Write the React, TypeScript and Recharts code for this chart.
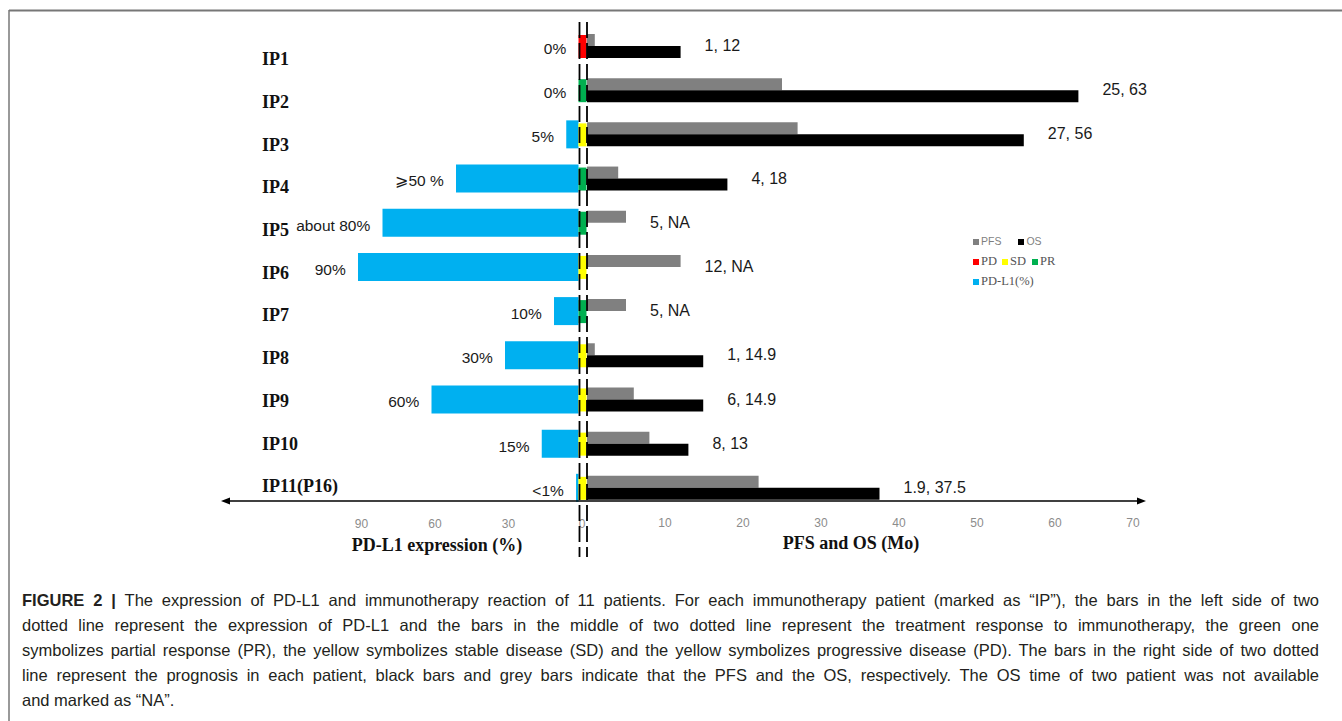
import { Bar, BarChart, Cell, LabelList, Legend, XAxis, YAxis } from "recharts";

const patients = ["IP1", "IP2", "IP3", "IP4", "IP5", "IP6", "IP7", "IP8", "IP9", "IP10", "IP11(P16)"];
const pdl1Percent = [0, 0, 5, 50, 80, 90, 10, 30, 60, 15, 1];
const pdl1Labels = ["0%", "0%", "5%", "⩾50 %", "about 80%", "90%", "10%", "30%", "60%", "15%", "<1%"];
const responses = ["PD", "PR", "SD", "PR", "PR", "SD", "PR", "SD", "SD", "SD", "SD"];
const pfsMonths = [1, 25, 27, 4, 5, 12, 5, 1, 6, 8, 22];
const osMonths: (number | null)[] = [12, 63, 56, 18, null, null, null, 14.9, 14.9, 13, 37.5];
const survivalLabels = ["1, 12", "25, 63", "27, 56", "4, 18", "5, NA", "12, NA", "5, NA", "1, 14.9", "6, 14.9", "8, 13", "1.9, 37.5"];
const pdl1Ticks = [90, 60, 30, 0];
const monthTicks = [10, 20, 30, 40, 50, 60, 70];

const responseColors: Record<string, string> = { PD: "#FF0000", SD: "#FFFF00", PR: "#00B050" };

const captionLines = [
  "The expression of PD-L1 and immunotherapy reaction of 11 patients. For each immunotherapy patient (marked as “IP”), the bars in the left side of two",
  "dotted line represent the expression of PD-L1 and the bars in the middle of two dotted line represent the treatment response to immunotherapy, the green one",
  "symbolizes partial response (PR), the yellow symbolizes stable disease (SD) and the yellow symbolizes progressive disease (PD). The bars in the right side of two dotted",
  "line represent the prognosis in each patient, black bars and grey bars indicate that the PFS and the OS, respectively. The OS time of two patient was not available",
  "and marked as “NA”.",
];

// gap between a PD-L1 bar and its text, in % units of that axis
const PD_LABEL_GAP = 5;

const rows = patients.map((name, i) => ({
  name,
  pdl1: pdl1Percent[i],
  pdl1Label: pdl1Labels[i],
  pdLabelAt: pdl1Percent[i] + PD_LABEL_GAP,
  response: responses[i],
  marker: 1,
  pfs: pfsMonths[i],
  os: osMonths[i],
  labelAt: Math.max(pfsMonths[i], osMonths[i] ?? 0),
  survivalLabel: survivalLabels[i],
}));

// plot geometry (px) used to line the three horizontal scales up
const W = 1342;
const H = 580;
const PLOT_L = 222;
const PLOT_R = 1145;
const PD_ZERO = 578.5;
const PD_PX = 2.45;
const MID_ZERO = 578.5;
const MID_PX = 8;
const MO_ZERO = 587;
const MO_PX = 7.8;

const pdDomain = [(PD_ZERO - PLOT_R) / PD_PX, (PD_ZERO - PLOT_L) / PD_PX];
const midDomain = [(PLOT_L - MID_ZERO) / MID_PX, (PLOT_R - MID_ZERO) / MID_PX];
const moDomain = [(PLOT_L - MO_ZERO) / MO_PX, (PLOT_R - MO_ZERO) / MO_PX];

const sans = "'Liberation Sans', Arial, sans-serif";
const serif = "'Liberation Serif', 'Times New Roman', serif";

function box(props: any) {
  const vb = props.viewBox ?? props;
  return {
    x: Number(vb.x ?? props.x ?? 0),
    y: Number(vb.y ?? props.y ?? 0),
    width: Number(vb.width ?? props.width ?? 0),
    height: Number(vb.height ?? props.height ?? 0),
  };
}

const renderPdLabel = (props: any) => {
  const { x, y, width, height } = box(props);
  const left = Math.min(x, x + width);
  return (
    <text x={left} y={y + height / 2 + 3} dy="0.35em" textAnchor="end" fontFamily={sans} fontSize={15.5} fill="#1a1a1a">
      {props.value}
    </text>
  );
};

const renderSurvivalLabel = (props: any) => {
  const { x, y, width, height } = box(props);
  const right = Math.max(x, x + width);
  return (
    <text x={right + 24} y={y + height / 2 - 1} dy="0.35em" textAnchor="start" fontFamily={sans} fontSize={16} fill="#1a1a1a">
      {props.value}
    </text>
  );
};

const PatientTick = (props: any) => {
  const { y, payload } = props;
  const idx = typeof props.index === "number" ? props.index : patients.indexOf(payload.value);
  return (
    <text x={262} y={y + 19 - 1.45 * idx} fontFamily={serif} fontWeight="bold" fontSize={18} fill="#111">
      {payload.value}
    </text>
  );
};

const NumberTick = (props: any) => {
  const { x, y, payload, shift = 0 } = props;
  return (
    <text x={x + shift} y={y - 13} textAnchor="middle" fontFamily={sans} fontSize={12} fill="#8c8c8c">
      {payload.value}
    </text>
  );
};

const swatch = (color: string) => (
  <span style={{ display: "inline-block", width: 6, height: 6, background: color, marginRight: 2 }} />
);

const renderLegend = () => (
  <div style={{ lineHeight: "20px", color: "#555" }}>
    <div style={{ fontFamily: sans, fontSize: 10.5, color: "#7f7f7f", display: "flex", alignItems: "center" }}>
      <span style={{ marginRight: 17 }}>{swatch("#808080")}PFS</span>
      <span>{swatch("#000000")}OS</span>
    </div>
    <div style={{ fontFamily: serif, fontSize: 12.5, display: "flex", alignItems: "center" }}>
      <span style={{ marginRight: 5 }}>{swatch(responseColors.PD)}PD</span>
      <span style={{ marginRight: 6 }}>{swatch(responseColors.SD)}SD</span>
      <span>{swatch(responseColors.PR)}PR</span>
    </div>
    <div style={{ fontFamily: serif, fontSize: 12.5, display: "flex", alignItems: "center" }}>
      <span>{swatch("#00B0F0")}PD-L1(%)</span>
    </div>
  </div>
);

export default function App() {
  return (
    <div style={{ position: "absolute", left: 0, top: 0, width: W, height: 721, background: "#fff", overflow: "hidden" }}>
      <BarChart
        layout="vertical"
        width={W}
        height={H}
        data={rows}
        margin={{ top: 24, right: W - PLOT_R, bottom: 68, left: PLOT_L - 1 }}
        barGap={0}
      >
        <XAxis
          xAxisId="pd"
          type="number"
          domain={pdDomain}
          reversed
          allowDataOverflow
          ticks={pdl1Ticks}
          interval={0}
          height={1}
          axisLine={false}
          tickLine={false}
          tickSize={0}
          tickMargin={0}
          tick={<NumberTick shift={3.5} />}
        />
        <XAxis
          xAxisId="mo"
          type="number"
          domain={moDomain}
          allowDataOverflow
          ticks={monthTicks}
          interval={0}
          height={1}
          axisLine={false}
          tickLine={false}
          tickSize={0}
          tickMargin={0}
          tick={<NumberTick />}
        />
        <XAxis xAxisId="mid" type="number" domain={midDomain} allowDataOverflow hide />
        <YAxis
          yAxisId="cat"
          type="category"
          dataKey="name"
          width={1}
          interval={0}
          axisLine={false}
          tickLine={false}
          tick={<PatientTick />}
        />
        <YAxis yAxisId="pdBand" type="category" dataKey="name" hide />
        <YAxis yAxisId="respBand" type="category" dataKey="name" hide />
        <YAxis yAxisId="labelBand" type="category" dataKey="name" hide />

        <Bar xAxisId="mo" yAxisId="cat" dataKey="pfs" fill="#808080" barSize={12} isAnimationActive={false} />
        <Bar xAxisId="mo" yAxisId="cat" dataKey="os" fill="#000000" barSize={12} isAnimationActive={false} />
        <Bar xAxisId="pd" yAxisId="pdBand" dataKey="pdl1" fill="#00B0F0" barSize={28} isAnimationActive={false} />
        <Bar xAxisId="mid" yAxisId="respBand" dataKey="marker" barSize={23} isAnimationActive={false}>
          {rows.map((r) => (
            <Cell key={r.name} fill={responseColors[r.response]} />
          ))}
        </Bar>
        <Bar xAxisId="pd" yAxisId="labelBand" dataKey="pdLabelAt" fill="none" barSize={1} isAnimationActive={false}>
          <LabelList dataKey="pdl1Label" content={renderPdLabel} />
        </Bar>
        <Bar xAxisId="mo" yAxisId="labelBand" dataKey="labelAt" fill="none" barSize={1} isAnimationActive={false}>
          <LabelList dataKey="survivalLabel" content={renderSurvivalLabel} />
        </Bar>
        <Legend
          layout="vertical"
          align="center"
          verticalAlign="middle"
          content={renderLegend}
          wrapperStyle={{ left: 973, top: 231, width: 130, height: 62 }}
        />
      </BarChart>

      <svg width={W} height={721} style={{ position: "absolute", left: 0, top: 0, pointerEvents: "none" }}>
        <line x1={9} y1={10.5} x2={W} y2={10.5} stroke="#777" strokeWidth={2} />
        <line x1={9} y1={10} x2={9} y2={721} stroke="#777" strokeWidth={1.5} />

        <line x1={579.5} y1={22} x2={579.5} y2={557} stroke="#000" strokeWidth={1.8} strokeDasharray="16 5" />
        <line x1={587} y1={22} x2={587} y2={557} stroke="#000" strokeWidth={1.8} strokeDasharray="16 5" />

        <line x1={226} y1={501} x2={1141} y2={501} stroke="#000" strokeWidth={1.3} />
        <polygon points="221,501 230,497.5 230,504.5" fill="#000" />
        <polygon points="1146,501 1137,497.5 1137,504.5" fill="#000" />

        <text x={437} y={551} textAnchor="middle" fontFamily={serif} fontWeight="bold" fontSize={18} fill="#111">
          PD-L1 expression (%)
        </text>
        <text x={851} y={549} textAnchor="middle" fontFamily={serif} fontWeight="bold" fontSize={18} fill="#111">
          PFS and OS (Mo)
        </text>
      </svg>

      <div
        style={{
          position: "absolute",
          left: 22,
          top: 588,
          width: 1297,
          fontFamily: sans,
          fontSize: 16.5,
          lineHeight: "25px",
          color: "#231f20",
        }}
      >
        {captionLines.map((line, i) => (
          <div key={i} style={{ textAlign: i < captionLines.length - 1 ? "justify" : "left", textAlignLast: i < captionLines.length - 1 ? "justify" : "left" }}>
            {i === 0 && <b>FIGURE 2 | </b>}
            {line}
          </div>
        ))}
      </div>
    </div>
  );
}
